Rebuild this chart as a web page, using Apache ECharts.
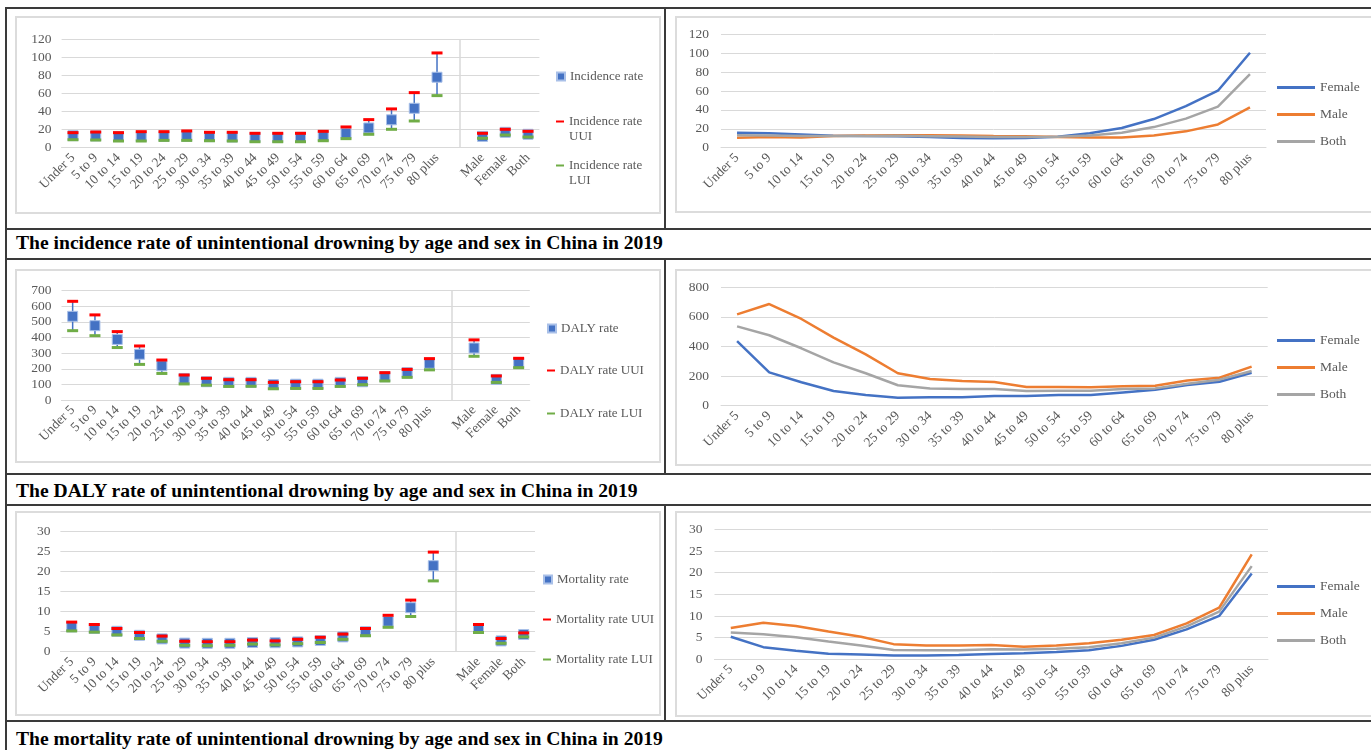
<!DOCTYPE html>
<html>
<head>
<meta charset="utf-8">
<title>Unintentional drowning in China, 2019</title>
<script src="https://cdn.jsdelivr.net/npm/echarts/dist/echarts.min.js"></script>
<style>
  html, body { margin: 0; padding: 0; background: #fff; }
  #page { position: relative; width: 1371px; height: 750px; overflow: hidden; }
  #main { position: absolute; left: 0; top: 0; width: 1371px; height: 750px; }
  .hl { position: absolute; height: 0; border-top: 2px solid #3a3a3a; }
  .vl { position: absolute; width: 0; border-left: 2px solid #3a3a3a; }
  .box { position: absolute; border: 2px solid #dcdcdc; box-sizing: border-box; }
  .cap { position: absolute; left: 16px; height: 22px; line-height: 22px; white-space: nowrap;
         font-family: "Liberation Serif", "Times New Roman", serif; font-weight: bold; font-size: 19.6px; color: #000; }
</style>
</head>
<body>
<div id="page">
  <!-- table lines -->
  <div class="hl" style="left:6px;width:1365px;top:7px"></div>
  <div class="hl" style="left:6px;width:1365px;top:228px"></div>
  <div class="hl" style="left:6px;width:1365px;top:258px"></div>
  <div class="hl" style="left:6px;width:1365px;top:473px"></div>
  <div class="hl" style="left:6px;width:1365px;top:504px"></div>
  <div class="hl" style="left:6px;width:1365px;top:720px"></div>
  <div class="vl" style="left:5px;top:7px;height:743px"></div>
  <div class="vl" style="left:664px;top:7px;height:222px"></div>
  <div class="vl" style="left:664px;top:258px;height:216px"></div>
  <div class="vl" style="left:664px;top:504px;height:217px"></div>
  <!-- chart areas -->
  <div class="box" style="left:15px;top:16px;width:646px;height:198px"></div>
  <div class="box" style="left:675px;top:16px;width:720px;height:197px"></div>
  <div class="box" style="left:15px;top:269px;width:646px;height:194px"></div>
  <div class="box" style="left:675px;top:269px;width:720px;height:197px"></div>
  <div class="box" style="left:15px;top:511px;width:646px;height:205px"></div>
  <div class="box" style="left:675px;top:511px;width:720px;height:206px"></div>
  <!-- captions -->
  <div class="cap" style="top:232px">The incidence rate of unintentional drowning by age and sex in China in 2019</div>
  <div class="cap" style="top:480px">The DALY rate of unintentional drowning by age and sex in China in 2019</div>
  <div class="cap" style="top:728px">The mortality rate of unintentional drowning by age and sex in China in 2019</div>
  <div id="main"></div>
</div>
<script>
// age groups and sexes
var ages = ['Under 5', '5 to 9', '10 to 14', '15 to 19', '20 to 24', '25 to 29', '30 to 34', '35 to 39',
            '40 to 44', '45 to 49', '50 to 54', '55 to 59', '60 to 64', '65 to 69', '70 to 74', '75 to 79', '80 plus'];
var sexes = ['Male', 'Female', 'Both'];

// incidence rate (per 100,000)
var incBoth   = [13.3, 13.0, 12.3, 12.3, 12.5, 12.6, 12.2, 11.8, 11.3, 11.2, 11.5, 12.8, 15.9, 21.8, 30.8, 43.5, 77.8];
var incUUI    = [16.6, 17.3, 16.6, 17.7, 17.7, 18.5, 17.0, 17.0, 15.9, 15.9, 15.9, 18.1, 22.9, 31.0, 42.8, 60.8, 104.6];
var incLUI    = [8.8, 8.5, 7.4, 7.4, 8.1, 8.1, 7.7, 7.4, 6.6, 6.6, 6.6, 7.7, 10.0, 14.8, 20.3, 29.5, 57.5];
var incFemale = [15.9, 15.2, 14.0, 12.7, 12.3, 12.0, 11.3, 10.2, 10.0, 10.2, 11.6, 15.2, 20.8, 30.3, 44.0, 60.3, 100.5];
var incMale   = [10.6, 11.3, 10.9, 12.3, 13.0, 13.3, 13.3, 13.0, 12.3, 12.0, 11.3, 10.9, 10.9, 13.0, 17.3, 24.6, 42.6];
var incSex    = [12.5, 17.0, 14.8];
var incSexUUI = [15.9, 20.3, 18.1];
var incSexLUI = [10.4, 14.0, 11.8];

// DALY rate (per 100,000)
var dalyBoth   = [536, 476, 388, 293, 219, 138, 117, 113, 113, 99, 101, 101, 113, 117, 149, 176, 235];
var dalyUUI    = [632, 545, 438, 346, 256, 160, 139, 130, 130, 113, 117, 117, 128, 139, 175, 196, 265];
var dalyLUI    = [444, 412, 336, 228, 170, 103, 95, 87, 88, 72, 74, 74, 87, 98, 122, 145, 193];
var dalyFemale = [437, 225, 158, 99, 72, 54, 57, 57, 65, 65, 72, 72, 90, 108, 140, 162, 223];
var dalyMale   = [617, 687, 586, 460, 347, 219, 180, 167, 160, 126, 126, 124, 131, 135, 171, 189, 264];
var dalySex    = [333, 132, 237];
var dalySexUUI = [385, 154, 267];
var dalySexLUI = [280, 113, 207];

// mortality rate (per 100,000)
var mortBoth   = [6.2, 5.8, 5.1, 4.1, 3.2, 2.15, 2.1, 2.1, 2.3, 2.25, 2.45, 2.8, 3.7, 5.0, 7.6, 11.0, 21.5];
var mortUUI    = [7.4, 6.8, 5.8, 4.8, 3.9, 2.6, 2.5, 2.5, 2.9, 2.7, 3.1, 3.6, 4.4, 5.8, 9.1, 12.9, 24.9];
var mortLUI    = [5.2, 4.9, 4.2, 3.3, 2.6, 1.6, 1.5, 1.6, 1.9, 1.7, 2.0, 2.3, 3.1, 4.0, 6.1, 8.8, 17.7];
var mortFemale = [5.2, 2.8, 2.0, 1.3, 1.1, 0.85, 0.9, 1.0, 1.2, 1.4, 1.7, 2.1, 3.1, 4.5, 6.9, 10.0, 19.8];
var mortMale   = [7.2, 8.45, 7.7, 6.4, 5.2, 3.5, 3.2, 3.2, 3.3, 2.9, 3.2, 3.7, 4.5, 5.6, 8.3, 11.9, 24.2];
var mortSex    = [5.8, 2.7, 4.3];
var mortSexUUI = [6.8, 3.3, 4.7];
var mortSexLUI = [4.8, 2.1, 3.7];

var FONT = '"Liberation Serif", "Times New Roman", serif';
var GREY = '#595959';
var cats = ages.concat([''], sexes);   // blank slot between ages and sexes

var chart = echarts.init(document.getElementById('main'));
var grids = [], xAxes = [], yAxes = [], series = [], legends = [];

function joinWithGap(a, b) { return a.concat([null], b); }

function addAxes(g, cat, max, step, labelMargin) {
    grids.push(g);
    var i = grids.length - 1;
    xAxes.push({
        type: 'category', gridIndex: i, data: cat, boundaryGap: true,
        axisLine: { lineStyle: { color: '#d9d9d9', width: 1 } },
        axisTick: { show: false },
        axisLabel: { interval: 0, rotate: 45, margin: 8, color: GREY, fontFamily: FONT, fontSize: 13.5 }
    });
    yAxes.push({
        type: 'value', gridIndex: i, min: 0, max: max, interval: step,
        axisLine: { show: false }, axisTick: { show: false },
        axisLabel: { color: GREY, fontFamily: FONT, fontSize: 13.5, margin: labelMargin },
        splitLine: { lineStyle: { color: '#d9d9d9', width: 1 } }
    });
    return i;
}

function legendItem(name, left, top, icon, w, h, fmt) {
    legends.push({
        data: [name], left: left, top: top, padding: 0, icon: icon,
        itemWidth: w, itemHeight: h, selectedMode: false,
        formatter: fmt || '{name}',
        textStyle: { color: GREY, fontFamily: FONT, fontSize: 13, lineHeight: 15 }
    });
}

// error-bar style chart (rate with UUI / LUI)
function uiChart(g, max, step, rateName, rate, uui, lui, sRate, sUUI, sLUI, leg) {
    var i = addAxes(g, cats, max, step, 10);
    var all = joinWithGap(rate, sRate), hi = joinWithGap(uui, sUUI), lo = joinWithGap(lui, sLUI);
    var bars = [];
    for (var k = 0; k < all.length; k++) {
        if (all[k] != null) bars.push([k, lo[k], hi[k]]);
    }
    series.push({
        type: 'custom', xAxisIndex: i, yAxisIndex: i, silent: true, z: 1,
        data: bars, encode: { x: 0, y: [1, 2] },
        renderItem: function (params, api) {
            var a = api.coord([api.value(0), api.value(1)]);
            var b = api.coord([api.value(0), api.value(2)]);
            return { type: 'line', shape: { x1: a[0], y1: a[1], x2: b[0], y2: b[1] },
                     style: { stroke: '#4472C4', lineWidth: 1.5 } };
        }
    });
    series.push({
        name: rateName, type: 'scatter', xAxisIndex: i, yAxisIndex: i, z: 2,
        data: all, symbol: 'rect', symbolSize: 10,
        itemStyle: { color: '#4472C4', borderColor: '#a9c0e8', borderWidth: 1, opacity: 1 },
        markLine: {
            silent: true, symbol: 'none', label: { show: false },
            lineStyle: { color: '#d9d9d9', width: 1.5, type: 'solid' },
            data: [{ xAxis: ages.length }]
        }
    });
    series.push({
        name: rateName + ' UUI', type: 'scatter', xAxisIndex: i, yAxisIndex: i, z: 3,
        data: hi, symbol: 'rect', symbolSize: [11, 3], itemStyle: { color: '#FF0000', opacity: 1 }
    });
    series.push({
        name: rateName + ' LUI', type: 'scatter', xAxisIndex: i, yAxisIndex: i, z: 4,
        data: lo, symbol: 'rect', symbolSize: [11, 3], itemStyle: { color: '#70AD47', opacity: 1 }
    });
    // wrapped entries get an empty first line so the icon sits beside the name line
    legendItem(rateName, leg.x, leg.y[0], 'rect', 8, 8);
    legendItem(rateName + ' UUI', leg.x, leg.y[1], 'rect', 8, 2, leg.wrap ? '\n' + rateName + '\nUUI' : null);
    legendItem(rateName + ' LUI', leg.x, leg.y[2], 'rect', 8, 2, leg.wrap ? '\n' + rateName + '\nLUI' : null);
}

// sex-specific line chart
function lineChart(g, max, step, fem, male, both, legTop) {
    var i = addAxes(g, ages, max, step, 12);
    var defs = [['Female', fem, '#4472C4'], ['Male', male, '#ED7D31'], ['Both', both, '#A5A5A5']];
    defs.forEach(function (d) {
        series.push({
            name: d[0], type: 'line', xAxisIndex: i, yAxisIndex: i, data: d[1],
            symbol: 'none', itemStyle: { color: d[2] }, lineStyle: { color: d[2], width: 2.5 }
        });
    });
    legends.push({
        data: ['Female', 'Male', 'Both'], orient: 'vertical', left: 1277, top: legTop, padding: 0,
        itemGap: 12, icon: 'rect', itemWidth: 38, itemHeight: 3, selectedMode: false,
        textStyle: { color: GREY, fontFamily: FONT, fontSize: 13.5, lineHeight: 15 }
    });
}

uiChart({ left: 61.6, top: 39, width: 477.8, height: 108.7 }, 120, 20, 'Incidence rate',
        incBoth, incUUI, incLUI, incSex, incSexUUI, incSexLUI,
        { x: 556, y: [69, 99, 143], wrap: true });
lineChart({ left: 721, top: 34.3, width: 545, height: 113.4 }, 120, 20, incFemale, incMale, incBoth, 80);

uiChart({ left: 61.5, top: 290.7, width: 468.3, height: 109.3 }, 700, 100, 'DALY rate',
        dalyBoth, dalyUUI, dalyLUI, dalySex, dalySexUUI, dalySexLUI,
        { x: 547, y: [321, 363, 406] });
lineChart({ left: 721, top: 287.3, width: 546.7, height: 118.4 }, 800, 200, dalyFemale, dalyMale, dalyBoth, 333);

uiChart({ left: 60.4, top: 531.7, width: 474.6, height: 120 }, 30, 5, 'Mortality rate',
        mortBoth, mortUUI, mortLUI, mortSex, mortSexUUI, mortSexLUI,
        { x: 543, y: [572, 612, 652] });
lineChart({ left: 714.5, top: 529.3, width: 553.5, height: 130 }, 30, 5, mortFemale, mortMale, mortBoth, 579);

chart.setOption({
    animation: false,
    grid: grids,
    xAxis: xAxes,
    yAxis: yAxes,
    legend: legends,
    series: series
});
</script>
</body>
</html>
